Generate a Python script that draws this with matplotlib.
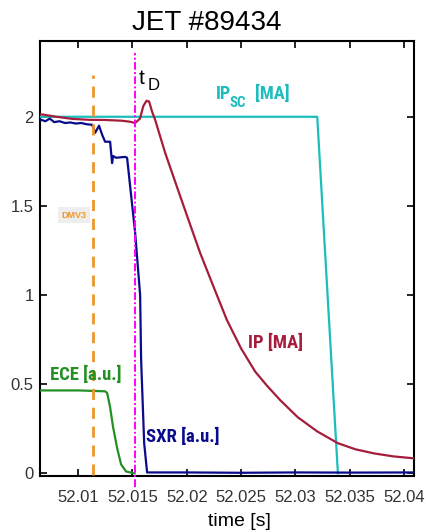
import matplotlib
matplotlib.use("Agg")
import matplotlib.pyplot as plt
from matplotlib import font_manager

# ---------------- data ----------------
t_ip = [52.0065, 52.0080, 52.0095, 52.0110, 52.0125, 52.0140, 52.0148, 52.01525,
        52.0157, 52.0160, 52.0163, 52.01654, 52.0168, 52.01709, 52.01801, 52.01909,
        52.02016, 52.02123, 52.02246, 52.02369, 52.0250, 52.0263, 52.0274, 52.0286,
        52.0302, 52.0320, 52.0339, 52.0355, 52.0372, 52.0390, 52.0409]
ip = [2.015, 2.000, 1.988, 1.983, 1.982, 1.978, 1.972, 1.965,
      1.990, 2.060, 2.090, 2.085, 2.030, 1.983, 1.798, 1.608,
      1.421, 1.236, 1.047, 0.860, 0.700, 0.570, 0.490, 0.410,
      0.315, 0.235, 0.169, 0.135, 0.112, 0.095, 0.084]

t_ipsc = [52.0065, 52.0320, 52.0339]
ipsc = [2.0, 2.0, 0.0]

t_sxr = [52.0065, 52.0070, 52.0074, 52.0078, 52.0083, 52.0088, 52.0093, 52.0098,
         52.0103, 52.0108, 52.0113, 52.01157, 52.01175, 52.01193, 52.01221, 52.01249,
         52.01295, 52.01313, 52.01322, 52.0135, 52.01433, 52.01451, 52.01525, 52.01571,
         52.0158, 52.01608, 52.01635, 52.0200, 52.0250, 52.0300, 52.0350, 52.0409]
sxr = [1.985, 1.975, 1.990, 1.970, 1.975, 1.965, 1.968, 1.962,
       1.965, 1.958, 1.955, 1.910, 1.930, 1.950, 1.900, 1.860,
       1.860, 1.740, 1.780, 1.770, 1.775, 1.770, 1.350, 1.000,
       0.640, 0.170, 0.005, 0.005, 0.003, 0.005, 0.004, 0.005]

t_ece = [52.0065, 52.0100, 52.0125, 52.01268, 52.01295, 52.01322, 52.0136,
         52.01396, 52.01442, 52.0152]
ece = [0.465, 0.465, 0.46, 0.45, 0.37, 0.26, 0.14, 0.05, 0.01, 0.0]

t_dmv3 = 52.01135
t_disr = 52.01525
xticks = [52.01, 52.015, 52.02, 52.025, 52.03, 52.035, 52.04]
xticklabels = ["52.01", "52.015", "52.02", "52.025", "52.03", "52.035", "52.04"]
yticks = [0, 0.5, 1, 1.5, 2]
yticklabels = ["0", "0.5", "1", "1.5", "2"]

# ---------------- style ----------------
names = {f.name for f in font_manager.fontManager.ttflist}
narrow = None
for cand in ["Liberation Sans Narrow", "Roboto Condensed", "Open Sans Condensed"]:
    if cand in names:
        narrow = cand
        break
if narrow is None:
    narrow = "Liberation Sans"
    k = 1.0
else:
    k = 1.2
plt.rcParams["font.family"] = ["Liberation Sans", "DejaVu Sans"]

C_CYAN = "#1dbdbd"
C_RED = "#a51d3a"
C_BLUE = "#0a0a8c"
C_GREEN = "#239023"
C_ORANGE = "#ee962c"
C_MAG = "#ff00ff"

fig = plt.figure(figsize=(4.27, 5.32), dpi=100)
ax = fig.add_axes([40 / 427, 1 - 476 / 532, 374 / 427, 435 / 532])

ax.plot(t_ipsc, ipsc, color=C_CYAN, lw=1.6, zorder=3)
ax.plot(t_ece, ece, color=C_GREEN, lw=1.6, zorder=3, solid_joinstyle="round")
ax.plot(t_sxr, sxr, color=C_BLUE, lw=1.6, zorder=4)
ax.plot(t_ip, ip, color=C_RED, lw=1.6, zorder=5, solid_joinstyle="round")

ax.plot([t_dmv3, t_dmv3], [-0.01, 2.235], color=C_ORANGE, lw=2.0,
        dashes=(4, 2.8), zorder=6)
ax.plot([t_disr, t_disr], [-0.075, 2.36], color=C_MAG, lw=1.4,
        dashes=(4, 1.2, 1, 1.2), zorder=6, clip_on=False)

ax.set_xlim(52.0065, 52.0409)
ax.set_ylim(-0.015, 2.425)
ax.set_xticks(xticks)
ax.set_xticklabels(xticklabels)
ax.set_yticks(yticks)
ax.set_yticklabels(yticklabels)
ax.tick_params(direction="in", top=True, right=True, length=5, width=1.2,
               labelsize=12, colors="black", labelcolor="#333333")
ax.tick_params(axis="x", pad=10)
ax.tick_params(axis="y", pad=4.5)
for s in ax.spines.values():
    s.set_linewidth(1.5)

fig.text(207 / 427, 1 - 23 / 532, "JET #89434", ha="center", va="center",
         fontsize=20, color="black")
fig.text(239 / 427, 1 - 521 / 532, "time [s]", ha="center", va="center",
         fontsize=14, color="black")

# annotations (figure pixel coords -> fraction)
def ft(x, y, s, **kw):
    fig.text(x / 427, 1 - y / 532, s, **kw)

ft(216, 94, "IP", fontsize=11 * k, fontweight="bold", family=narrow, color=C_CYAN,
   ha="left", va="center")
ft(230, 103, "SC", fontsize=9 * k, fontweight="bold", family=narrow, color=C_CYAN,
   ha="left", va="center")
ft(255, 94, "[MA]", fontsize=11 * k, fontweight="bold", family=narrow, color=C_CYAN,
   ha="left", va="center")

ft(139, 78, "t", fontsize=15, color="black", ha="left", va="center")
ft(147.5, 85, "D", fontsize=12, color="black", ha="left", va="center")

ft(248, 343, "IP [MA]", fontsize=11.2 * k, fontweight="bold", family=narrow,
   color=C_RED, ha="left", va="center")
ft(50, 375, "ECE [a.u.]", fontsize=11.2 * k, fontweight="bold", family=narrow,
   color=C_GREEN, ha="left", va="center")
ft(146, 437, "SXR [a.u.]", fontsize=11.2 * k, fontweight="bold", family=narrow,
   color=C_BLUE, ha="left", va="center")
ft(74, 215, "DMV3", fontsize=6.5, fontweight="bold", color=C_ORANGE,
   ha="center", va="center",
   bbox=dict(boxstyle="square,pad=0.35", fc="#eeeeee", ec="none"))

fig.savefig("out.png", dpi=100)
